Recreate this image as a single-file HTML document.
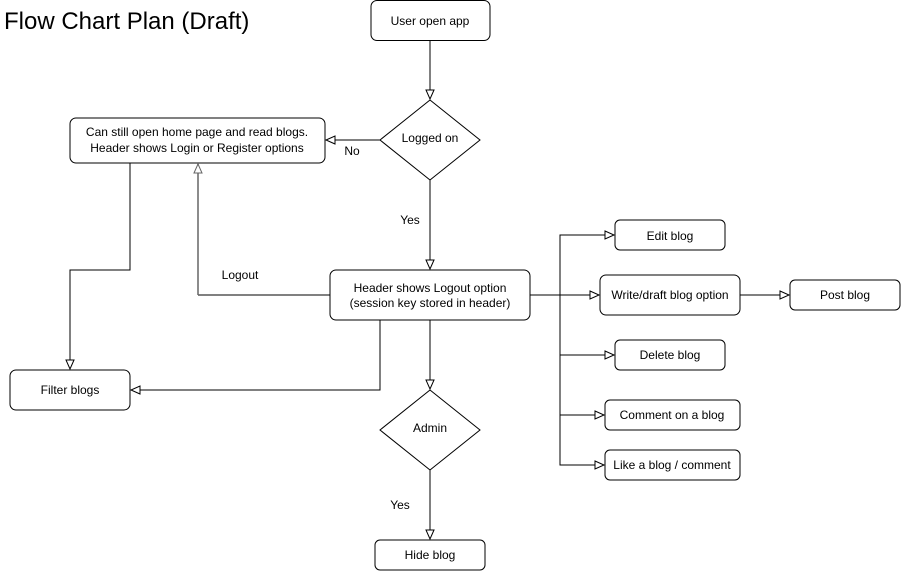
<!DOCTYPE html>
<html><head><style>
body{margin:0;background:#fff;}
svg text{font-family:"Liberation Sans",Arial,sans-serif;font-size:12px;fill:#000;}
</style></head><body>
<svg width="901" height="571" viewBox="0 0 901 571" xmlns="http://www.w3.org/2000/svg">
<defs>
<marker id="a" markerWidth="12" markerHeight="10" refX="10" refY="5" orient="auto" markerUnits="userSpaceOnUse">
<path d="M1,1 L10,5 L1,9 Z" fill="#fff" stroke="#000" stroke-width="1"/>
</marker>
<marker id="g" markerWidth="12" markerHeight="10" refX="10" refY="5" orient="auto" markerUnits="userSpaceOnUse">
<path d="M1,1 L10,5 L1,9 Z" fill="#fff" stroke="#666" stroke-width="1"/>
</marker>
</defs>
<text x="4" y="29" style="font-size:24px">Flow Chart Plan (Draft)</text>
<g fill="#fff" stroke="#000" stroke-width="1">
<rect x="371" y="0.5" width="119" height="40" rx="6"/>
<polygon points="430,100 480,140 430,180 380,140"/>
<rect x="70" y="118" width="255" height="45" rx="6"/>
<rect x="330" y="270" width="200" height="50" rx="6"/>
<rect x="615" y="220" width="110" height="30" rx="5"/>
<rect x="600" y="275" width="140" height="40" rx="6"/>
<rect x="790" y="280" width="110" height="30" rx="5"/>
<rect x="615" y="340" width="110" height="30" rx="5"/>
<rect x="605" y="400" width="135" height="30" rx="5"/>
<rect x="605" y="450" width="135" height="30" rx="5"/>
<rect x="10" y="370" width="120" height="40" rx="6"/>
<polygon points="430,390 480,430 430,470 380,430"/>
<rect x="375" y="540" width="110" height="30" rx="5"/>
</g>
<g fill="none" stroke="#000" stroke-width="1">
<path d="M430,40 V99" marker-end="url(#a)"/>
<path d="M380,140 H326" marker-end="url(#a)"/>
<path d="M430,180 V269" marker-end="url(#a)"/>
<path d="M130,163 V270 H70 V369" marker-end="url(#a)"/>
<path d="M330,295 H198" />
<path d="M198,295 V164" stroke="#666" stroke-width="1.5" marker-end="url(#g)"/>
<path d="M380,320 V390 H131" marker-end="url(#a)"/>
<path d="M430,320 V389" marker-end="url(#a)"/>
<path d="M430,470 V539" marker-end="url(#a)"/>
<path d="M530,295 H599" marker-end="url(#a)"/>
<path d="M560,295 V235 H614" marker-end="url(#a)"/>
<path d="M560,295 V355 H614" marker-end="url(#a)"/>
<path d="M560,355 V415 H604" marker-end="url(#a)"/>
<path d="M560,415 V465 H604" marker-end="url(#a)"/>
<path d="M740,295 H789" marker-end="url(#a)"/>
</g>
<g text-anchor="middle">
<text x="430" y="25">User open app</text>
<text x="430" y="142">Logged on</text>
<text x="197" y="136">Can still open home page and read blogs.</text>
<text x="197" y="152">Header shows Login or Register options</text>
<text x="430" y="292">Header shows Logout option</text>
<text x="430" y="307">(session key stored in header)</text>
<text x="670" y="240">Edit blog</text>
<text x="670" y="299">Write/draft blog option</text>
<text x="845" y="299">Post blog</text>
<text x="670" y="359">Delete blog</text>
<text x="672" y="419">Comment on a blog</text>
<text x="672" y="469">Like a blog / comment</text>
<text x="70" y="394">Filter blogs</text>
<text x="430" y="432">Admin</text>
<text x="430" y="559">Hide blog</text>
<text x="352" y="155">No</text>
<text x="410" y="224">Yes</text>
<text x="240" y="279">Logout</text>
<text x="400" y="509">Yes</text>
</g>
</svg>
</body></html>
